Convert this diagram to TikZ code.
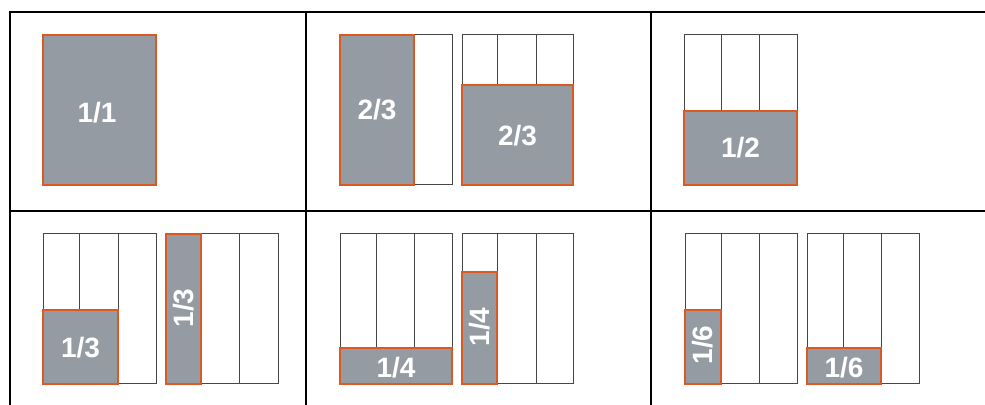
\documentclass[tikz,border=0pt]{standalone}
\usepackage{fontspec}
\setmainfont{Liberation Sans}
\usepackage{tikz}

\definecolor{partgrey}{RGB}{149,155,162}
\definecolor{partedge}{RGB}{222,88,34}
\definecolor{coledge}{RGB}{70,70,70}

\tikzset{
  tableline/.style={black, line width=1pt},
  colline/.style={coledge, line width=0.5pt},
  part/.style={fill=partgrey, draw=partedge, line width=0.6pt},
  parttext/.style={text=white, font=\fontsize{14}{16}\selectfont\bfseries, inner sep=0pt}
}

\begin{document}
\begin{tikzpicture}[x=0.5pt, y=-0.5pt]
\useasboundingbox (0,0) rectangle (985,405);
% table
\draw[tableline] (10,405) -- (10,12) -- (985,12);
\draw[tableline] (10,211) -- (985,211);
\draw[tableline] (306,12) -- (306,405);
\draw[tableline] (651,12) -- (651,405);

% 1/1
\draw[part] (43,35) rectangle (156,185);
\node[parttext] (whole) at (97,113) {1/1};

% 2/3 upright
\draw[colline] (340,35) rectangle (452,185);
\draw[colline] (377,35) -- (377,185);
\draw[colline] (414,35) -- (414,185);
\draw[part] (340,35) rectangle (414,185);
\node[parttext] (twothirdsA) at (377,110) {2/3};

% 2/3 lying
\draw[colline] (462,35) rectangle (573,185);
\draw[colline] (497,35) -- (497,185);
\draw[colline] (536,35) -- (536,185);
\draw[part] (462,85) rectangle (573,185);
\node[parttext] (twothirdsB) at (517.5,136) {2/3};

% 1/2
\draw[colline] (684,35) rectangle (797,185);
\draw[colline] (721,35) -- (721,185);
\draw[colline] (759,35) -- (759,185);
\draw[part] (684,111) rectangle (797,185);
\node[parttext] (half) at (740.5,148) {1/2};

% 1/3 lying
\draw[colline] (43,234) rectangle (156,384);
\draw[colline] (79,234) -- (79,384);
\draw[colline] (118,234) -- (118,384);
\draw[part] (43,310) rectangle (118,384);
\node[parttext] (thirdA) at (80.5,348) {1/3};

% 1/3 upright
\draw[colline] (166,234) rectangle (278,384);
\draw[colline] (201,234) -- (201,384);
\draw[colline] (239,234) -- (239,384);
\draw[part] (166,234) rectangle (201,384);
\node[parttext, rotate=90] (thirdB) at (183.5,308) {1/3};

% 1/4 lying
\draw[colline] (340,234) rectangle (452,384);
\draw[colline] (376,234) -- (376,384);
\draw[colline] (414,234) -- (414,384);
\draw[part] (340,348) rectangle (452,384);
\node[parttext] (quarterA) at (396,368) {1/4};

% 1/4 upright
\draw[colline] (462,234) rectangle (573,384);
\draw[colline] (497,234) -- (497,384);
\draw[colline] (536,234) -- (536,384);
\draw[part] (462,272) rectangle (497,384);
\node[parttext, rotate=90] (quarterB) at (479.5,327) {1/4};

% 1/6 upright
\draw[colline] (685,234) rectangle (797,384);
\draw[colline] (721,234) -- (721,384);
\draw[colline] (759,234) -- (759,384);
\draw[part] (685,310) rectangle (721,384);
\node[parttext, rotate=90] (sixthA) at (703,345) {1/6};

% 1/6 lying
\draw[colline] (807,234) rectangle (919,384);
\draw[colline] (843,234) -- (843,384);
\draw[colline] (881,234) -- (881,384);
\draw[part] (807,348) rectangle (881,384);
\node[parttext] (sixthB) at (844,368) {1/6};
\end{tikzpicture}
\end{document}
